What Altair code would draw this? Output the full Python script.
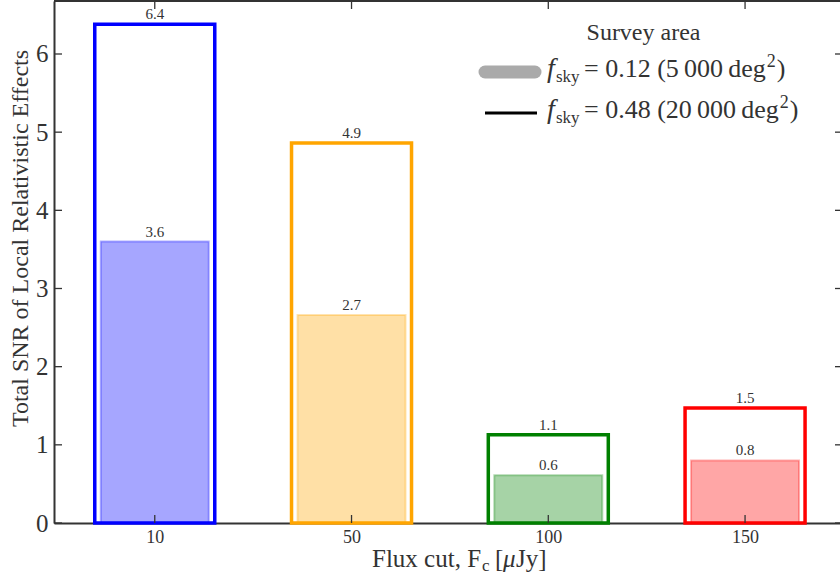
import json
import altair as alt
import pandas as pd

# ---- data ----
flux_labels = ["10", "50", "100", "150"]          # Flux cut F_c [µJy]
snr_fsky012 = [3.60, 2.66, 0.61, 0.80]            # f_sky = 0.12 (filled bars)
snr_fsky048 = [6.38, 4.86, 1.13, 1.47]            # f_sky = 0.48 (outline bars)
bar_colors = ["#0000ff", "#ffa500", "#008000", "#ff0000"]
y_tick_values = [0, 1, 2, 3, 4, 5, 6]

legend_title = "Survey area"
legend_fsky = ["0.12", "0.48"]
legend_area = ["5\u2009000", "20\u2009000"]

FONT = "Liberation Serif"
INK = "#333333"

W, H = 786, 522
PAD_L, PAD_T = 54, 1

# Times-like advance widths (em) used only to chain text pieces in the legend
ADV = {"=": 0.564, " ": 0.25, ".": 0.25, "(": 0.333, ")": 0.333, "d": 0.5, "e": 0.444,
       "g": 0.5, "\u2009": 0.2}


def text_width(s, size):
    return sum(ADV.get(ch, 0.5) for ch in s) * size


df = pd.DataFrame({
    "idx": list(range(len(flux_labels))),
    "flux": flux_labels,
    "small": snr_fsky012,
    "large": snr_fsky048,
})
df_y = pd.DataFrame({"v": y_tick_values})
df_x = pd.DataFrame({"idx": list(range(len(flux_labels)))})

xscale = alt.Scale(domain=[-0.4867, 3.4571], nice=False, zero=False)
yscale = alt.Scale(domain=[0, 6.678], nice=False, zero=True)
cscale = alt.Scale(domain=flux_labels, range=bar_colors)

label_expr = json.dumps(flux_labels) + "[datum.value]"
xaxis = alt.Axis(values=list(range(len(flux_labels))), labelExpr=label_expr, title=None,
                 ticks=False, tickSize=0, grid=False, domainColor=INK, domainWidth=2,
                 labelFontSize=18, labelColor=INK, labelFont=FONT, labelPadding=5,
                 labelFlush=False, labelOverlap=False)
yaxis = alt.Axis(values=y_tick_values, title="Total SNR of Local Relativistic Effects",
                 ticks=False, tickSize=0, grid=False, domainColor=INK, domainWidth=2,
                 labelFontSize=25, labelColor=INK, labelFont=FONT, labelPadding=6,
                 titleFont=FONT, titleFontSize=24, titleColor=INK, titleFontWeight="normal",
                 titleAngle=270, titleAlign="center", titleBaseline="alphabetic",
                 titleX=27 - PAD_L, titleY=238 - PAD_T)

X = alt.X("idx:Q", scale=xscale, axis=xaxis)

outline = alt.Chart(df).mark_bar(width=120, fillOpacity=0, strokeWidth=3.5).encode(
    x=X,
    y=alt.Y("large:Q", scale=yscale, axis=yaxis),
    stroke=alt.Stroke("flux:N", scale=cscale, legend=None),
)
filled = alt.Chart(df).mark_bar(width=108, fillOpacity=0.35, strokeOpacity=0.3, strokeWidth=2).encode(
    x=X,
    y=alt.Y("small:Q", scale=yscale, axis=yaxis),
    fill=alt.Fill("flux:N", scale=cscale, legend=None),
    stroke=alt.Stroke("flux:N", scale=cscale, legend=None),
)
lab_large = alt.Chart(df).mark_text(baseline="alphabetic", dy=-5, fontSize=15, font=FONT, color=INK).encode(
    x=X, y=alt.Y("large:Q", scale=yscale, axis=yaxis), text=alt.Text("large:Q", format=".1f"))
lab_small = alt.Chart(df).mark_text(baseline="alphabetic", dy=-5, fontSize=15, font=FONT, color=INK).encode(
    x=X, y=alt.Y("small:Q", scale=yscale, axis=yaxis), text=alt.Text("small:Q", format=".1f"))

# inward ticks on all four sides
tick_style = dict(color=INK, strokeWidth=1.3)
yt_left = alt.Chart(df_y).mark_rule(**tick_style).encode(
    y=alt.Y("v:Q", scale=yscale, axis=yaxis), x=alt.value(0), x2=alt.value(8))
yt_right = alt.Chart(df_y).mark_rule(**tick_style).encode(
    y=alt.Y("v:Q", scale=yscale, axis=yaxis), x=alt.value(W - 5), x2=alt.value(W))
xt_bottom = alt.Chart(df_x).mark_rule(**tick_style).encode(
    x=X, y=alt.value(H - 8), y2=alt.value(H))
xt_top = alt.Chart(df_x).mark_rule(**tick_style).encode(
    x=X, y=alt.value(0), y2=alt.value(8))
top_spine = alt.Chart(df_x.head(1)).mark_rule(color=INK, strokeWidth=2).encode(
    x=alt.value(0), x2=alt.value(W), y=alt.value(0))


def txt(s, x, y, size, style="normal", align="left"):
    return alt.Chart(pd.DataFrame({"t": [s]})).mark_text(
        align=align, baseline="alphabetic", fontSize=size, font=FONT, fontStyle=style, color=INK
    ).encode(x=alt.value(x - PAD_L), y=alt.value(y - PAD_T), text="t:N")


# x axis title with subscript
xtitle = [
    txt("Flux cut, F", 372, 567, 25),
    txt("c", 482, 571, 17),
    txt("[", 495, 567, 25),
    txt("\u03bc", 503, 567, 25, "italic"),
    txt("Jy]", 516, 567, 25),
]

# legend
leg = [txt(legend_title, 643.5, 40, 24, align="center")]
leg.append(alt.Chart(df_x.head(1)).mark_rule(color="#aaaaaa", strokeWidth=13, strokeCap="round").encode(
    x=alt.value(485 - PAD_L), x2=alt.value(535 - PAD_L), y=alt.value(72 - PAD_T)))
leg.append(alt.Chart(df_x.head(1)).mark_rule(color="#000000", strokeWidth=3).encode(
    x=alt.value(485 - PAD_L), x2=alt.value(537 - PAD_L), y=alt.value(113 - PAD_T)))
MAIN = 26
SUP = 18
for k, base_y in enumerate([77, 118]):
    leg.append(txt("f", 547, base_y, 28, "italic"))
    leg.append(txt("sky", 556, base_y + 5, 17))
    body = "= " + legend_fsky[k] + " (" + legend_area[k] + "\u2009deg"
    x0 = 584
    leg.append(txt(body, x0, base_y, MAIN))
    xs = x0 + text_width(body, MAIN) + 1
    leg.append(txt("2", xs, base_y - 10, SUP))
    leg.append(txt(")", xs + 0.5 * SUP + 1, base_y, MAIN))

chart = alt.layer(
    filled, outline, lab_large, lab_small,
    yt_left, yt_right, xt_bottom, xt_top, top_spine,
    *xtitle, *leg,
).properties(
    width=W, height=H,
    padding={"left": PAD_L, "top": PAD_T, "right": 0, "bottom": 581 - PAD_T - H},
    autosize=alt.AutoSizeParams(type="none"),
).configure_view(stroke=None).configure(font=FONT)

chart.save("out.html", embed_options={"renderer": "svg", "actions": False})
